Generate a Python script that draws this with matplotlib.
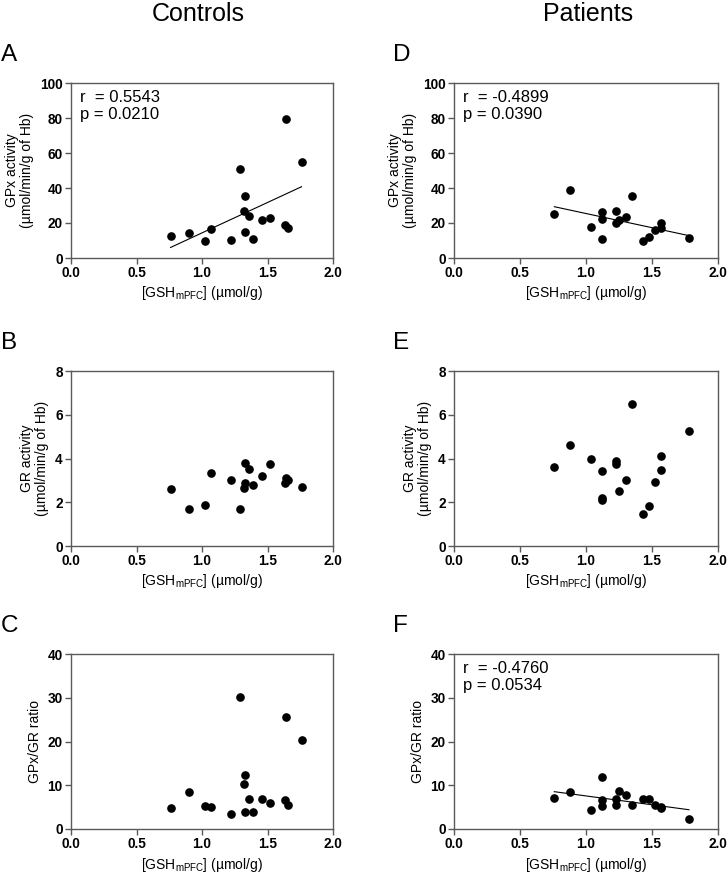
import numpy as np
import matplotlib
matplotlib.use("Agg")
import matplotlib.pyplot as plt

plt.rcParams["font.family"] = ["Liberation Sans", "DejaVu Sans"]
plt.rcParams["mathtext.default"] = "regular"

# Controls (panels A-C)
ctrl_gsh = [0.76, 0.90, 1.02, 1.07, 1.22, 1.29, 1.32, 1.33, 1.33, 1.36, 1.39, 1.46, 1.52, 1.63, 1.64, 1.66, 1.76]
ctrl_gpx = [12.6, 14.1, 9.7, 16.8, 10.3, 50.9, 27.0, 35.2, 15.0, 24.0, 10.7, 21.7, 22.7, 18.7, 79.2, 17.0, 54.9]
ctrl_gr = [2.60, 1.67, 1.86, 3.33, 3.00, 1.70, 2.63, 2.88, 3.81, 3.52, 2.77, 3.21, 3.74, 2.88, 3.09, 3.00, 2.71]
ctrl_ratio = [4.8, 8.5, 5.3, 5.0, 3.4, 30.2, 10.2, 12.3, 3.9, 6.9, 3.9, 6.9, 6.0, 6.6, 25.7, 5.6, 20.3]

# Patients (panels D-F)
pat_gsh = [0.76, 0.88, 1.04, 1.12, 1.12, 1.12, 1.23, 1.23, 1.25, 1.30, 1.35, 1.43, 1.48, 1.52, 1.57, 1.57, 1.78]
pat_gpx = [25.1, 38.9, 17.7, 26.3, 22.5, 10.7, 26.7, 20.2, 21.9, 23.6, 35.6, 9.5, 11.8, 15.8, 20.2, 17.3, 11.4]
pat_gr = [3.59, 4.60, 3.99, 2.19, 3.42, 2.09, 3.90, 3.73, 2.51, 3.03, 6.47, 1.45, 1.81, 2.91, 4.12, 3.47, 5.24]
pat_ratio = [7.0, 8.5, 4.4, 12.0, 6.6, 5.2, 6.9, 5.4, 8.8, 7.8, 5.5, 6.8, 6.8, 5.5, 4.9, 5.0, 2.2]

xlabel = "[GSH$_{mPFC}$] (\u00b5mol/g)"
ylabels = ["GPx activity\n(\u00b5mol/min/g of Hb)", "GR activity\n(\u00b5mol/min/g of Hb)", "GPx/GR ratio"]
ylims = [(0, 100, 20), (0, 8, 2), (0, 40, 10)]

W, H = 727, 873
fig = plt.figure(figsize=(W / 100, H / 100), dpi=100)


def px_axes(left, top, right, bottom):
    return fig.add_axes([left / W, 1 - bottom / H, (right - left) / W, (bottom - top) / H])


rows = [(83, 258), (371, 546), (654, 829)]
cols = [(71, 333, -70), (454, 718, -61)]
panels = [
    ("A", ctrl_gsh, ctrl_gpx, 0, 0, ("0.5543", "0.0210")),
    ("B", ctrl_gsh, ctrl_gr, 1, 0, None),
    ("C", ctrl_gsh, ctrl_ratio, 2, 0, None),
    ("D", pat_gsh, pat_gpx, 0, 1, ("-0.4899", "0.0390")),
    ("E", pat_gsh, pat_gr, 1, 1, None),
    ("F", pat_gsh, pat_ratio, 2, 1, ("-0.4760", "0.0534")),
]

frame = "#5a5a5a"
for letter, xs, ys, r, c, stats in panels:
    top, bottom = rows[r]
    left, right, letter_dx = cols[c]
    ax = px_axes(left, top, right, bottom)
    xs = np.asarray(xs)
    ys = np.asarray(ys)
    ax.plot(xs, ys, "o", color="black", markersize=5.2, zorder=3)
    if stats is not None:
        # least-squares line over the observed range
        k, b = np.polyfit(xs, ys, 1)
        xx = np.array([xs.min(), xs.max()])
        ax.plot(xx, k * xx + b, color="black", lw=0.8)
        ax.text(0.035, 0.96, f"r  = {stats[0]}\np = {stats[1]}", transform=ax.transAxes,
                ha="left", va="top", fontsize=12, linespacing=1.2)
    lo, hi, step = ylims[r]
    ax.set_xlim(0, 2)
    ax.set_ylim(lo, hi)
    ax.set_xticks([0.0, 0.5, 1.0, 1.5, 2.0])
    ax.set_xticklabels(["0.0", "0.5", "1.0", "1.5", "2.0"])
    ax.set_yticks(np.arange(lo, hi + step / 2, step))
    for s in ax.spines.values():
        s.set_color(frame)
        s.set_linewidth(1.0)
    ax.tick_params(direction="out", length=4, width=1.0, color=frame, labelsize=9.8, pad=2)
    for lab in ax.get_xticklabels() + ax.get_yticklabels():
        lab.set_fontweight("bold")
    ax.set_xlabel(xlabel, fontsize=10, labelpad=3)
    ax.set_ylabel(ylabels[r], fontsize=10, labelpad=4, linespacing=1.1)
    fig.text((left + letter_dx) / W, 1 - (top - 28) / H, letter, fontsize=17.5, ha="left", va="center")

fig.text(198 / W, 1 - 14 / H, "Controls", fontsize=18, ha="center", va="center")
fig.text(588 / W, 1 - 14 / H, "Patients", fontsize=18, ha="center", va="center")

fig.savefig("out.png", dpi=100)
